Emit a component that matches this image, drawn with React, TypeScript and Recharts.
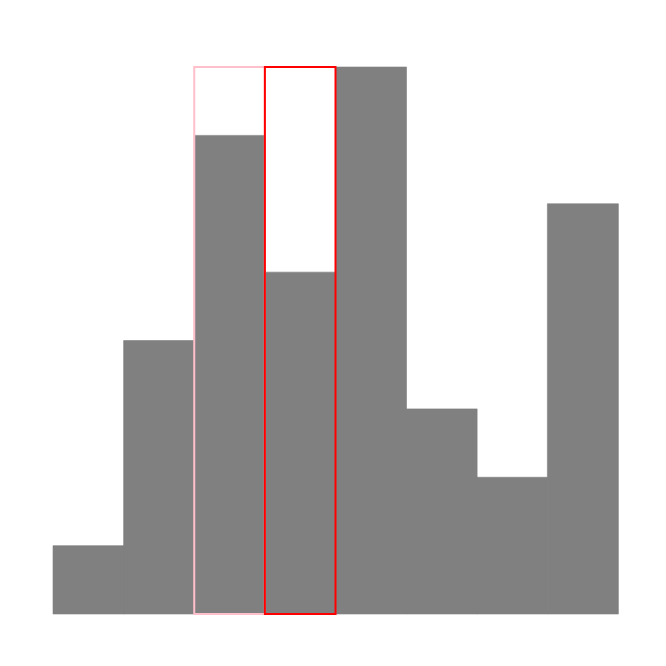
import { Bar, BarChart, ReferenceArea, XAxis, YAxis } from "recharts";

const categories = ["a", "b", "c", "d", "e", "f", "g", "h"];
const values = [1, 4, 7, 5, 8, 3, 2, 6];
const highlights = [
  { cat: "c", color: "pink" },
  { cat: "d", color: "red" },
];

const data = categories.map((name, i) => ({ name, value: values[i] }));
const W = 658;
const H = 658;
const margin = { top: 59, right: 48, bottom: 52, left: 45 };

export default function App() {
  return (
    <div style={{ position: "relative", width: W, height: H }}>
      <BarChart width={W} height={H} data={data} barCategoryGap={0} margin={margin}>
        <XAxis dataKey="name" hide />
        <YAxis domain={[0, 8]} hide />
        <Bar
          dataKey="value"
          fill="#808080"
          stroke="#808080"
          strokeWidth={0.6}
          isAnimationActive={false}
        />
      </BarChart>
      {/* outlines drawn in an overlay so they sit on top of the bars */}
      <div style={{ position: "absolute", left: 0, top: 0 }}>
        <BarChart width={W} height={H} data={data} barCategoryGap={0} margin={margin}>
          <XAxis dataKey="name" hide />
          <YAxis domain={[0, 8]} hide />
          <Bar dataKey="value" fill="none" isAnimationActive={false} />
          {highlights.map((h) => (
            <ReferenceArea
              key={h.cat}
              x1={h.cat}
              x2={h.cat}
              y1={0}
              y2={8}
              fill="none"
              fillOpacity={0}
              stroke={h.color}
              strokeWidth={2}
              strokeOpacity={1}
            />
          ))}
        </BarChart>
      </div>
    </div>
  );
}
